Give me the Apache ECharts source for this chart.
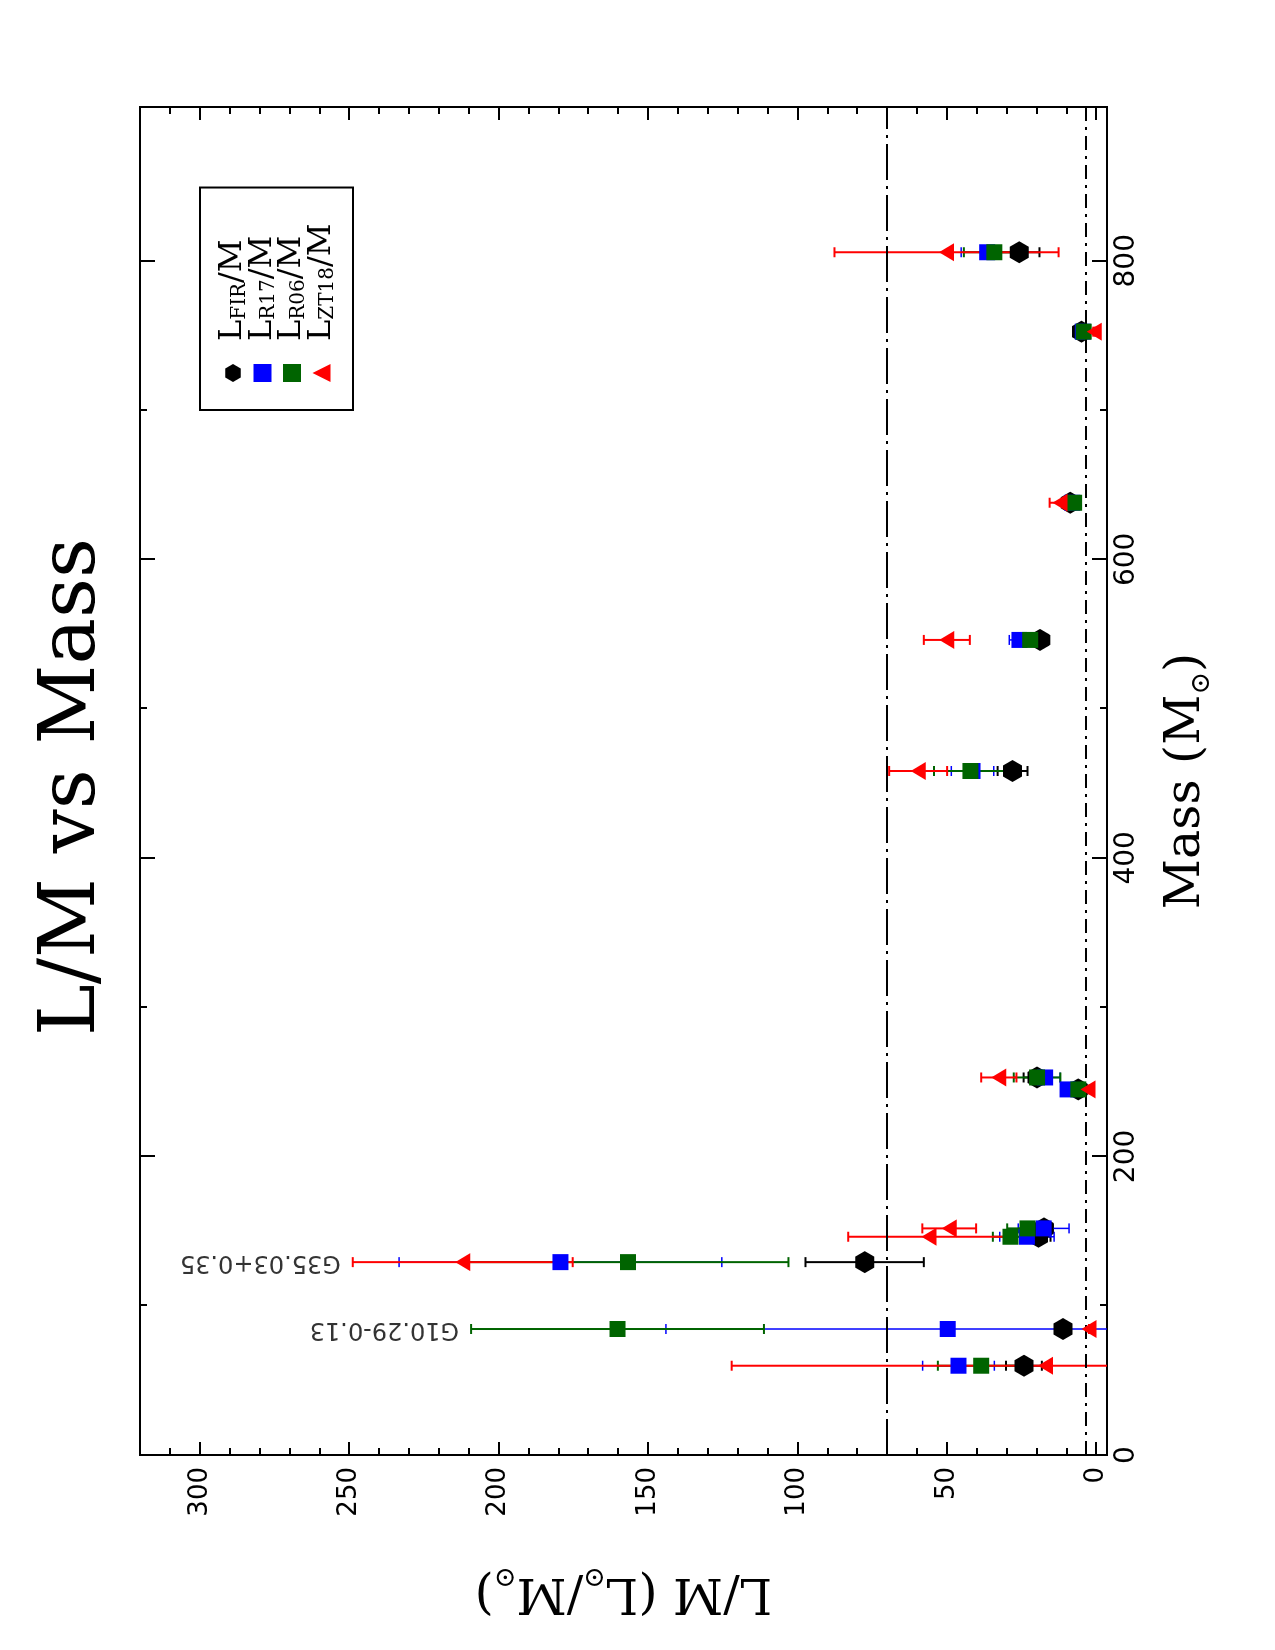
<!DOCTYPE html>
<html>
<head>
<meta charset="utf-8">
<title>L/M vs Mass</title>
<script src="https://cdn.jsdelivr.net/npm/echarts@6/dist/echarts.min.js"></script>
<style>
html, body { margin:0; padding:0; background:#fff; overflow:hidden; width:1275px; height:1650px; }
/* chart is drawn landscape and turned a quarter turn, like the original plot */
#main { position:absolute; left:0; top:0; width:1650px; height:1275px;
        transform-origin:0 0; transform:translateY(1650px) rotate(-90deg); }
</style>
</head>
<body>
<div id="main"></div>
<script type="text/javascript">
// clump masses (Msun)
var mass    = [59.8, 84.4, 129.2, 146.2, 151.8, 244.9, 252.9, 458.2, 546.0, 637.9, 752.5, 805.7];
// L/M values and errors, one pair of arrays per estimate
var lmFIR   = [24.2, 11.1, 77.5, 19.3, 17.5, 6.0, 19.8, 28.0, 18.8, 8.7, 4.9, 25.8];
var errFIR  = [6.0, 0, 19.8, 4.0, 3.0, 1.0, 4.5, 5.0, 3.1, 1.0, 0.5, 6.8];
var lmR17   = [46.1, 49.7, 179.3, 23.2, 17.6, 9.6, 17.1, 41.4, 25.7, 8.0, 4.5, 36.5];
var errR17  = [12.0, 94.3, 54.0, 9.1, 8.5, 1.0, 5.0, 7.1, 3.4, 1.0, 0.5, 8.7];
var lmR06   = [38.5, 160.2, 156.7, 28.7, 23.0, 6.0, 19.8, 42.1, 22.1, 7.4, 4.2, 34.1];
var errR06  = [14.5, 49.0, 53.7, 5.9, 6.8, 1.0, 7.8, 12.2, 2.0, 1.0, 0.5, 10.2];
var lmZT18  = [17.0, 2.4, 212.0, 56.0, 49.2, 2.8, 32.6, 59.6, 50.0, 12.1, 0.7, 50.1];
var errZT18 = [105.0, 0, 36.8, 27.0, 9.0, 0.5, 5.9, 9.7, 7.7, 3.5, 0.3, 37.5];

// named sources, placed above their highest error bar
var srcNames = ['G10.29-0.13', 'G35.03+0.35'];
var srcMass  = [84.4, 129.2];
var srcTop   = [209.2, 248.8];

// dash-dot reference levels of L/M
var refLevels = [70, 3.6];

// ticks
var massTicks = [0, 200, 400, 600, 800];
var massMinor = [100, 300, 500, 700];
var lmTicks   = [0, 50, 100, 150, 200, 250, 300];
var lmMinor   = [10, 20, 30, 40, 60, 70, 80, 90, 110, 120, 130, 140, 160, 170, 180, 190,
                 210, 220, 230, 240, 260, 270, 280, 290, 310];

var MASS_MIN = 0, MASS_MAX = 903, LM_MIN = -3.6, LM_MAX = 320;

var hexPath = 'path://M0,8.66L5,0L15,0L20,8.66L15,17.32L5,17.32Z';
var serif = 'DejaVu Serif';

function pts(y) { return mass.map(function (m, i) { return [m, y[i]]; }); }
function bars(y, e) { return mass.map(function (m, i) { return [m, y[i] - e[i], y[i] + e[i]]; }); }

function errBar(color, width) {
	return function (params, api) {
		var a = api.coord([api.value(0), api.value(1)]);
		var b = api.coord([api.value(0), api.value(2)]);
		var h = 5;
		var st = { stroke: color, lineWidth: width };
		return { type: 'group', children: [
			{ type: 'line', shape: { x1: a[0], y1: a[1], x2: b[0], y2: b[1] }, style: st },
			{ type: 'line', shape: { x1: a[0] - h, y1: a[1], x2: a[0] + h, y2: a[1] }, style: st },
			{ type: 'line', shape: { x1: b[0] - h, y1: b[1], x2: b[0] + h, y2: b[1] }, style: st }
		]};
	};
}

var nameRich = {
	a: { fontFamily: serif, fontSize: 49, color: '#000', lineHeight: 58 },
	s: { fontFamily: serif, fontSize: 27, color: '#000', lineHeight: 22, verticalAlign: 'bottom' }
};

function massAxis(pos, ticks, len, main) {
	var ax = {
		type: 'value', min: MASS_MIN, max: MASS_MAX, position: pos,
		axisLine: { show: false, onZero: false },
		splitLine: { show: false },
		axisTick: { inside: true, length: len, customValues: ticks, lineStyle: { color: '#000', width: 2 } },
		axisLabel: { show: false }
	};
	if (main) {
		ax.axisLabel = { show: true, customValues: ticks, margin: 6, color: '#000',
			fontFamily: 'DejaVu Sans', fontSize: 28 };
		ax.name = '{a|Mass (M}{s|\u2299}{a|)}';
		ax.nameLocation = 'middle';
		ax.nameGap = 50;
		ax.nameTextStyle = { rich: nameRich };
	}
	return ax;
}

function lmAxis(pos, ticks, len, main) {
	var ax = {
		type: 'value', min: LM_MIN, max: LM_MAX, position: pos,
		axisLine: { show: false, onZero: false },
		splitLine: { show: false },
		axisTick: { inside: true, length: len, customValues: ticks, lineStyle: { color: '#000', width: 2 } },
		axisLabel: { show: false }
	};
	if (main) {
		ax.axisLabel = { show: true, customValues: ticks, margin: 12, color: '#000',
			fontFamily: 'DejaVu Sans', fontSize: 26 };
		ax.name = '{a|L/M (L}{s|\u2299}{a|/M}{s|\u2299}{a|)}';
		ax.nameLocation = 'middle';
		ax.nameGap = 108;
		ax.nameRotate = 90;
		ax.nameTextStyle = { rich: nameRich };
	}
	return ax;
}

var myChart = echarts.init(document.getElementById('main'), null, { renderer: 'canvas' });
myChart.setOption({
	backgroundColor: '#fff',
	animation: false,
	title: {
		text: 'L/M vs Mass',
		left: 858, top: 30, textAlign: 'center',
		textStyle: { fontFamily: serif, fontSize: 78, fontWeight: 'normal', color: '#000' }
	},
	legend: {
		orient: 'vertical', left: 1240, top: 200,
		padding: [17, 36, 15, 28], itemGap: -3,
		itemWidth: 18, itemHeight: 18,
		borderColor: '#000', borderWidth: 2,
		selectedMode: false,
		data: [
			{ name: 'FIR', icon: hexPath },
			{ name: 'R17', icon: 'rect' },
			{ name: 'R06', icon: 'rect' },
			{ name: 'ZT18', icon: 'triangle' }
		],
		formatter: function (n) { return '{g|L}{s|' + n + '}{m|/M}'; },
		textStyle: { rich: {
			g: { fontFamily: serif, fontSize: 32, color: '#000', lineHeight: 33, padding: [0, 0, 0, 18] },
			m: { fontFamily: serif, fontSize: 32, color: '#000', lineHeight: 33 },
			s: { fontFamily: serif, fontSize: 20, color: '#000', lineHeight: 17, verticalAlign: 'bottom' }
		}}
	},
	grid: {
		left: 195, right: 107, top: 140, bottom: 168,
		show: true, borderColor: '#000', borderWidth: 2, backgroundColor: 'transparent',
		outerBoundsMode: 'none'
	},
	xAxis: [
		massAxis('bottom', massTicks, 15, true),
		massAxis('bottom', massMinor, 7, false),
		massAxis('top', massTicks, 15, false),
		massAxis('top', massMinor, 7, false)
	],
	yAxis: [
		lmAxis('left', lmTicks, 13, true),
		lmAxis('left', lmMinor, 7, false),
		lmAxis('right', lmTicks, 13, false),
		lmAxis('right', lmMinor, 7, false)
	],
	series: [
		{ type: 'custom', clip: true, z: 2, renderItem: errBar('#000', 2), encode: { x: 0, y: [1, 2] }, data: bars(lmFIR, errFIR) },
		{ type: 'custom', clip: true, z: 2, renderItem: errBar('#0000ff', 1.5), encode: { x: 0, y: [1, 2] }, data: bars(lmR17, errR17) },
		{ type: 'custom', clip: true, z: 2, renderItem: errBar('#006400', 2), encode: { x: 0, y: [1, 2] }, data: bars(lmR06, errR06) },
		{ type: 'custom', clip: true, z: 2, renderItem: errBar('#ff0000', 2), encode: { x: 0, y: [1, 2] }, data: bars(lmZT18, errZT18) },
		{
			name: 'FIR', type: 'scatter', z: 3, symbol: hexPath, symbolSize: [22, 19], symbolKeepAspect: false,
			itemStyle: { color: '#000', opacity: 1 }, data: pts(lmFIR),
			markLine: {
				silent: true, symbol: ['none', 'none'], label: { show: false },
				data: [
					{ yAxis: refLevels[0], lineStyle: { color: '#000', width: 2, type: [36, 6, 3, 6] } },
					{ yAxis: refLevels[1], lineStyle: { color: '#000', width: 2, type: [14, 6, 3, 6] } }
				]
			}
		},
		{ name: 'R17', type: 'scatter', z: 4, symbol: 'rect', symbolSize: 16, itemStyle: { color: '#0000ff', opacity: 1 }, data: pts(lmR17) },
		{ name: 'R06', type: 'scatter', z: 5, symbol: 'rect', symbolSize: 16, itemStyle: { color: '#006400', opacity: 1 }, data: pts(lmR06) },
		{ name: 'ZT18', type: 'scatter', z: 6, symbol: 'triangle', symbolSize: [18, 15], itemStyle: { color: '#ff0000', opacity: 1 }, data: pts(lmZT18) },
		{
			type: 'scatter', z: 7, symbolSize: 0, silent: true,
			data: srcNames.map(function (n, i) { return { name: n, value: [srcMass[i], srcTop[i]] }; }),
			label: {
				show: true, position: 'top', distance: 12, rotate: 90, align: 'left', verticalAlign: 'middle',
				formatter: '{b}', color: '#000', fontFamily: 'DejaVu Sans', fontSize: 24
			}
		}
	]
});
</script>
</body>
</html>
